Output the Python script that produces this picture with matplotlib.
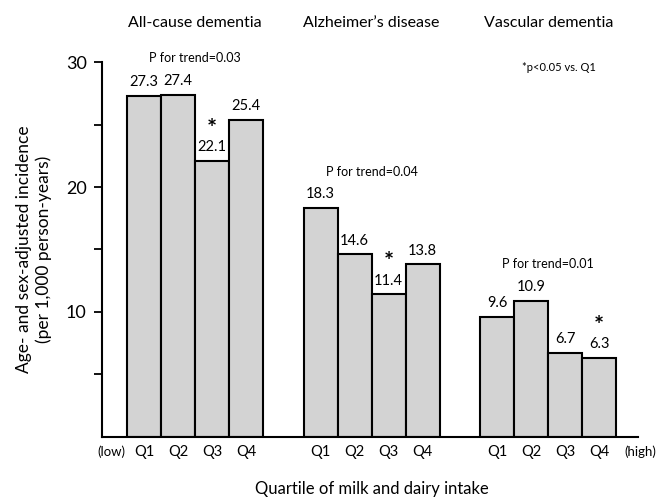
import matplotlib
matplotlib.use("Agg")
import matplotlib.pyplot as plt
import matplotlib.transforms as mtransforms
import numpy as np

plt.rcParams['font.family'] = ['Lato', 'DejaVu Sans']

groups = ["All-cause dementia", "Alzheimer\u2019s disease", "Vascular dementia"]
quartiles = ["Q1", "Q2", "Q3", "Q4"]
values = [
    [27.3, 27.4, 22.1, 25.4],
    [18.3, 14.6, 11.4, 13.8],
    [9.6, 10.9, 6.7, 6.3],
]
significant = [
    [False, False, True, False],
    [False, False, True, False],
    [False, False, False, True],
]
trend_p = ["0.03", "0.04", "0.01"]

fig = plt.figure(figsize=(6.58, 4.97), dpi=100)
ax = fig.add_axes([0.155, 0.121, 0.815, 0.754])
ax.set_xlim(-1.24, 14.55)
ax.set_ylim(0, 30)
title_tr = mtransforms.blended_transform_factory(ax.transData, fig.transFigure)

group_start = [0.0, 5.2, 10.4]
ticks, ticklabels = [], []
for g, (start, vals) in enumerate(zip(group_start, values)):
    xs = start + np.arange(len(vals))
    ax.bar(xs, vals, width=1.0, color='#d3d3d3', edgecolor='black', linewidth=1.5, zorder=2)
    for x, v, sig in zip(xs, vals, significant[g]):
        ax.text(x, v + 0.55, f"{v:.1f}", ha='center', va='bottom', fontsize=10.5)
        if sig:
            ax.text(x, v + 1.6, "*", ha='center', va='bottom', fontsize=17, fontweight='bold')
    ticks.extend(xs)
    ticklabels.extend(quartiles)
    ax.text(start + 1.5, max(vals) + 2.45, f"P for trend={trend_p[g]}", ha='center', va='bottom', fontsize=9)
    fig.text(start + 1.5, 0.953, groups[g], transform=title_tr, ha='center', va='center', fontsize=11.5)

ax.set_xticks(ticks)
ax.set_xticklabels(ticklabels, fontsize=10.5)
ax.tick_params(axis='x', length=0, pad=6)
ax.set_yticks([10, 20, 30])
ax.set_yticks([5, 15, 25], minor=True)
ax.tick_params(axis='y', which='both', direction='out', length=6, width=1.3, labelsize=13, pad=5)
ax.spines['top'].set_visible(False)
ax.spines['right'].set_visible(False)
ax.spines['left'].set_linewidth(1.5)
ax.spines['bottom'].set_linewidth(1.5)

ax.text(-0.95, -0.022, "(low)", transform=ax.get_xaxis_transform(), ha='center', va='top', fontsize=9.5)
ax.text(14.6, -0.022, "(high)", transform=ax.get_xaxis_transform(), ha='center', va='top', fontsize=9.5)
ax.text(12.2, 29.6, "*p<0.05 vs. Q1", ha='center', va='center', fontsize=8)

ax.set_ylabel("Age- and sex-adjusted incidence\n(per 1,000 person-years)", fontsize=12.5, labelpad=10, linespacing=1.25)
fig.text(0.565, 0.0, "Quartile of milk and dairy intake", ha='center', va='bottom', fontsize=12)

fig.savefig("out.png", dpi=100)
